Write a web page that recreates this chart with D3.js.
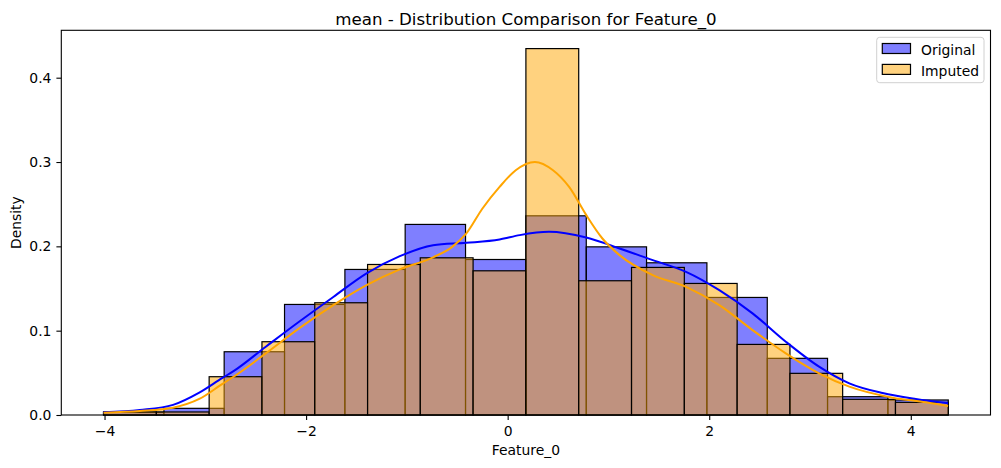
<!DOCTYPE html>
<html>
<head>
<meta charset="utf-8">
<script src="https://cdn.jsdelivr.net/npm/d3@7"></script>
<style>
body { margin: 0; background: #fff; }
text { font-family: "DejaVu Sans", sans-serif; fill: #000; }
</style>
</head>
<body>
<div id="chart"></div>
<script>
// histogram bins (edges + density)
const originalEdges = [-4.010, -3.411, -2.813, -2.214, -1.615, -1.017, -0.418, 0.181, 0.780, 1.378, 1.977, 2.576, 3.174, 3.773, 4.372];
const originalDensity = [0.0033, 0.0079, 0.075, 0.1311, 0.1726, 0.226, 0.1844, 0.2362, 0.1994, 0.1805, 0.1394, 0.0672, 0.0217, 0.0178];

const imputedEdges = [-4.010, -3.486, -2.962, -2.438, -1.914, -1.390, -0.867, -0.343, 0.181, 0.705, 1.229, 1.753, 2.277, 2.801, 3.324, 3.848, 4.372];
const imputedDensity = [0.0037, 0.0036, 0.0454, 0.0869, 0.1331, 0.1785, 0.1864, 0.171, 0.4345, 0.1592, 0.175, 0.156, 0.0837, 0.0494, 0.0186, 0.015];

// kde curves, sampled by eye
const originalKdeX = [-4.01, -3.65, -3.32, -3.06, -2.83, -2.72, -2.40, -2.07, -1.73, -1.40, -1.07, -0.74, -0.41, -0.08, 0.12, 0.41, 0.78, 1.11, 1.44, 1.77, 2.10, 2.43, 2.76, 3.09, 3.39, 3.72, 4.05, 4.37];
const originalKdeY = [0.0032, 0.006, 0.012, 0.0265, 0.044, 0.052, 0.081, 0.1106, 0.140, 0.168, 0.1884, 0.2014, 0.2042, 0.2081, 0.2133, 0.2172, 0.2105, 0.1975, 0.1836, 0.1698, 0.148, 0.1205, 0.0869, 0.0573, 0.0375, 0.026, 0.019, 0.014];

const imputedKdeX = [-4.01, -3.65, -3.32, -3.06, -2.83, -2.72, -2.40, -2.07, -1.73, -1.40, -1.07, -0.74, -0.55, -0.41, -0.25, -0.08, 0.08, 0.27, 0.45, 0.61, 0.78, 0.94, 1.11, 1.44, 1.77, 2.10, 2.43, 2.76, 3.09, 3.39, 3.82, 4.15, 4.37];
const imputedKdeY = [0.0028, 0.0047, 0.0087, 0.019, 0.037, 0.0454, 0.0731, 0.1027, 0.1303, 0.154, 0.1726, 0.187, 0.1994, 0.2153, 0.2449, 0.2705, 0.2903, 0.3001, 0.2903, 0.2705, 0.237, 0.2093, 0.1896, 0.1659, 0.152, 0.1303, 0.1007, 0.0731, 0.0494, 0.0336, 0.0205, 0.015, 0.0107];

const xTicks = [-4, -2, 0, 2, 4];
const yTicks = [0, 0.1, 0.2, 0.3, 0.4];
const seriesNames = ["Original", "Imputed"];

const width = 1001, height = 468;
const margin = ({ top: 30.3, right: 10.5, bottom: 53, left: 61.3 });
const fontSize = 13.9;

const svg = d3.select("#chart").append("svg")
    .attr("width", width)
    .attr("height", height);

const x = d3.scaleLinear()
    .domain([-4.429, 4.791])
    .range([margin.left, width - margin.right]);

const y = d3.scaleLinear()
    .domain([0, 0.4562])
    .range([height - margin.bottom, margin.top]);

function bins(edges, dens) {
    return dens.map((d, i) => ({ x0: edges[i], x1: edges[i + 1], h: d }));
}

function drawBars(data, color, cls) {
    svg.append("g").classed(cls, true)
        .selectAll("rect")
        .data(data)
        .enter()
        .append("rect")
        .attr("x", d => x(d.x0))
        .attr("y", d => y(d.h))
        .attr("width", d => x(d.x1) - x(d.x0))
        .attr("height", d => y(0) - y(d.h))
        .attr("fill", color)
        .attr("fill-opacity", 0.5)
        .attr("stroke", "#000")
        .attr("stroke-width", 1.2);
}

drawBars(bins(originalEdges, originalDensity), "blue", "bars-original");
drawBars(bins(imputedEdges, imputedDensity), "orange", "bars-imputed");

const line = d3.line()
    .x(d => x(d[0]))
    .y(d => y(d[1]))
    .curve(d3.curveMonotoneX);

svg.append("path")
    .datum(d3.zip(originalKdeX, originalKdeY))
    .attr("d", line)
    .attr("fill", "none")
    .attr("stroke", "blue")
    .attr("stroke-width", 2);

svg.append("path")
    .datum(d3.zip(imputedKdeX, imputedKdeY))
    .attr("d", line)
    .attr("fill", "none")
    .attr("stroke", "orange")
    .attr("stroke-width", 2);

// spines
svg.append("rect")
    .attr("x", margin.left)
    .attr("y", margin.top)
    .attr("width", width - margin.right - margin.left)
    .attr("height", height - margin.bottom - margin.top)
    .attr("fill", "none")
    .attr("stroke", "#000")
    .attr("stroke-width", 1.1);

const xAxis = svg.append("g")
    .attr("transform", `translate(0, ${height - margin.bottom})`)
    .call(d3.axisBottom(x).tickValues(xTicks).tickSize(4.9).tickPadding(6).tickFormat(d3.format("d")));

const yAxis = svg.append("g")
    .attr("transform", `translate(${margin.left}, 0)`)
    .call(d3.axisLeft(y).tickValues(yTicks).tickSize(4.9).tickPadding(5).tickFormat(d3.format(".1f")));

[xAxis, yAxis].forEach(a => {
    a.select(".domain").remove();
    a.attr("font-family", null).attr("font-size", null);
    a.selectAll("text").style("font-size", fontSize + "px");
    a.selectAll("line").attr("stroke", "#000").attr("stroke-width", 1.1);
});

svg.append("text")
    .attr("x", (margin.left + width - margin.right) / 2)
    .attr("y", 455)
    .attr("text-anchor", "middle")
    .style("font-size", fontSize + "px")
    .text("Feature_0");

svg.append("text")
    .attr("transform", `translate(20.8, ${(margin.top + height - margin.bottom) / 2}) rotate(-90)`)
    .attr("text-anchor", "middle")
    .style("font-size", fontSize + "px")
    .text("Density");

svg.append("text")
    .attr("x", (margin.left + width - margin.right) / 2)
    .attr("y", 24.5)
    .attr("text-anchor", "middle")
    .style("font-size", "16.67px")
    .text("mean - Distribution Comparison for Feature_0");

// legend
const legend = svg.append("g").attr("transform", "translate(876.7, 37.3)");
legend.append("rect")
    .attr("width", 107.3)
    .attr("height", 45.4)
    .attr("rx", 3)
    .attr("fill", "#fff")
    .attr("fill-opacity", 0.8)
    .attr("stroke", "#d0d0d0");

const legendColors = ["blue", "orange"];
seriesNames.forEach((name, i) => {
    legend.append("rect")
        .attr("x", 5.6)
        .attr("y", 6.2 + i * 20.9)
        .attr("width", 28.2)
        .attr("height", 10)
        .attr("fill", legendColors[i])
        .attr("fill-opacity", 0.5)
        .attr("stroke", "#000")
        .attr("stroke-width", 1.2);
    legend.append("text")
        .attr("x", 44.3)
        .attr("y", 17.7 + i * 20.9)
        .style("font-size", fontSize + "px")
        .text(name);
});
</script>
</body>
</html>
